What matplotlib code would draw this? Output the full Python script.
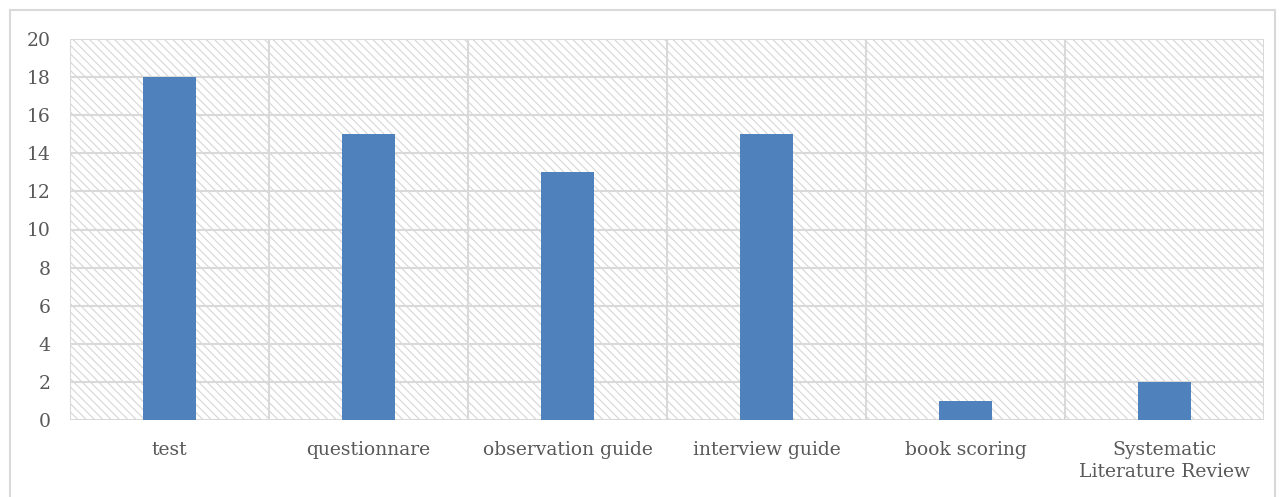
import matplotlib
matplotlib.use("Agg")
import matplotlib.pyplot as plt
from matplotlib.patches import Rectangle

categories = ["test", "questionnare", "observation guide", "interview guide",
              "book scoring", "Systematic\nLiterature Review"]
counts = [18, 15, 13, 15, 1, 2]
y_ticks = list(range(0, 21, 2))

BAR_COLOR = "#4F81BD"
GRID_COLOR = "#D9D9D9"
TEXT_COLOR = "#595959"

plt.rcParams["font.family"] = ["DejaVu Serif"]
plt.rcParams["hatch.linewidth"] = 0.8

fig = plt.figure(figsize=(12.81, 4.97), dpi=100)

# outer chart frame
frame = Rectangle((10 / 1281, -0.05), 1265 / 1281, 1 - 10 / 497 + 0.05,
                  transform=fig.transFigure, fill=False,
                  edgecolor=GRID_COLOR, linewidth=1.5)
fig.add_artist(frame)

ax = fig.add_axes([70 / 1281, 1 - 420 / 497, (1264 - 70) / 1281, (420 - 39) / 497])
ax.set_facecolor("white")

# hatched plot-area background
ax.add_patch(Rectangle((0, 0), 1, 1, transform=ax.transAxes, facecolor="white",
                       edgecolor="#D6D6D6", hatch="\\" * 4, linewidth=0, zorder=0))

x = list(range(len(categories)))
ax.bar(x, counts, width=0.27, color=BAR_COLOR, zorder=3)

ax.set_xlim(-0.5, len(categories) - 0.5)
ax.set_ylim(0, 20)
ax.set_yticks(y_ticks)
ax.set_yticklabels([str(v) for v in y_ticks])

# horizontal gridlines
for v in y_ticks:
    ax.axhline(v, color=GRID_COLOR, linewidth=1.5, zorder=1)
# vertical separators between categories
for b in [i - 0.5 for i in range(len(categories) + 1)]:
    ax.axvline(b, color=GRID_COLOR, linewidth=1.5, zorder=1)

ax.set_xticks(x)
ax.set_xticklabels(categories, linespacing=1.3)

for s in ax.spines.values():
    s.set_visible(False)

ax.tick_params(axis="both", length=0, colors=TEXT_COLOR, labelsize=13.5)
ax.tick_params(axis="y", pad=14)
ax.tick_params(axis="x", pad=15)
for lbl in ax.get_xticklabels():
    lbl.set_verticalalignment("top")

fig.savefig("out.png", dpi=100)
